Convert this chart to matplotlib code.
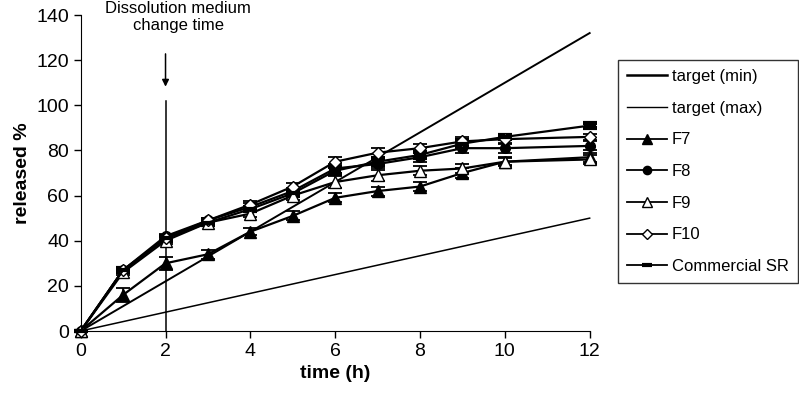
import numpy as np
import matplotlib.pyplot as plt
from matplotlib.lines import Line2D

plt.rcParams['font.family'] = ['Liberation Sans', 'DejaVu Sans']

# time points (h)
t = [0, 1, 2, 3, 4, 5, 6, 7, 8, 9, 10, 12]
t_target = [0, 12]
target_min = [0, 132]
target_max = [0, 50]

f7 = [0, 16, 30, 34, 44, 51, 59, 62, 64, 70, 75, 77]
f8 = [0, 27, 42, 49, 55, 62, 72, 74, 77, 81, 81, 82]
f9 = [0, 26, 40, 48, 52, 60, 66, 69, 71, 72, 75, 76]
f10 = [0, 27, 41, 49, 56, 64, 75, 79, 81, 84, 85, 86]
sr = [0, 27, 41, 48, 54, 61, 71, 75, 78, 83, 86, 91]

f7_err = [0, 3, 3, 2, 1.5, 2, 2, 2, 2, 2, 1.5, 2]
f8_err = [0, 1, 1, 1, 1.5, 1.5, 2, 2, 2, 2, 2, 2]
f9_err = [0, 1, 1.5, 1, 1.5, 2, 2.5, 2.5, 2, 2, 2, 2]
f10_err = [0, 1, 1, 1, 1.5, 1.5, 2, 2, 2, 2, 1.5, 1.5]
sr_err = [0, 1, 1, 1, 1, 1, 1.5, 1.5, 1.5, 1.5, 1, 1]

fig = plt.figure(figsize=(7.99, 4.0), dpi=100)
ax = fig.add_axes([0.101, 0.1725, 0.637, 0.79])

ax.plot(t_target, target_min, color='black', lw=1.4)
ax.plot(t_target, target_max, color='black', lw=1.1)

series = [
    (f7, f7_err, 'F7', dict(marker='^', ms=8, mfc='black', mec='black')),
    (f8, f8_err, 'F8', dict(marker='o', ms=7, mfc='black', mec='black')),
    (f9, f9_err, 'F9', dict(marker='^', ms=8, mfc='white', mec='black')),
    (f10, f10_err, 'F10', dict(marker='D', ms=6.5, mfc='white', mec='black')),
    (sr, sr_err, 'Commercial SR', dict(marker='_', ms=9, mew=3, mec='black')),
]
handles = [Line2D([], [], color='black', lw=1.8, label='target (min)'),
           Line2D([], [], color='black', lw=1.0, label='target (max)')]
for y, e, name, mk in series:
    ax.errorbar(t, y, yerr=e, color='black', lw=1.6, capsize=5, capthick=1.3,
                elinewidth=1.2, **mk)
    lk = dict(mk)
    lk['ms'] = mk['ms'] * 0.85
    handles.append(Line2D([], [], color='black', lw=1.3, label=name, **lk))

# dissolution medium change
ax.plot([2, 2], [0, 102], color='black', lw=1.1)
ax.annotate('', xy=(2, 107), xytext=(2, 124),
            arrowprops=dict(arrowstyle='-|>', color='black', lw=1.1, mutation_scale=10))
ax.text(2.3, 146, 'Dissolution medium\nchange time', ha='center', va='top',
        fontsize=12, linespacing=1.15, clip_on=False)

ax.set_xlim(0, 12)
ax.set_ylim(0, 140)
ax.set_xticks(range(0, 13, 2))
ax.set_yticks(range(0, 141, 20))
ax.spines['top'].set_visible(False)
ax.spines['right'].set_visible(False)
ax.tick_params(direction='out', length=5, width=1, labelsize=14)
ax.set_xlabel('time (h)', fontsize=14, fontweight='bold')
ax.set_ylabel('released %', fontsize=14, fontweight='bold')
for art in ax.lines:
    art.set_clip_on(False)

leg = fig.legend(handles=handles, loc='upper left', bbox_to_anchor=(0.773, 0.85),
                 fontsize=12, frameon=True, fancybox=False, edgecolor='black',
                 labelspacing=1.0, handlelength=2.4, handletextpad=0.3,
                 borderpad=0.55, borderaxespad=0)
leg.get_frame().set_linewidth(1.0)

fig.savefig('out.png', dpi=100)
